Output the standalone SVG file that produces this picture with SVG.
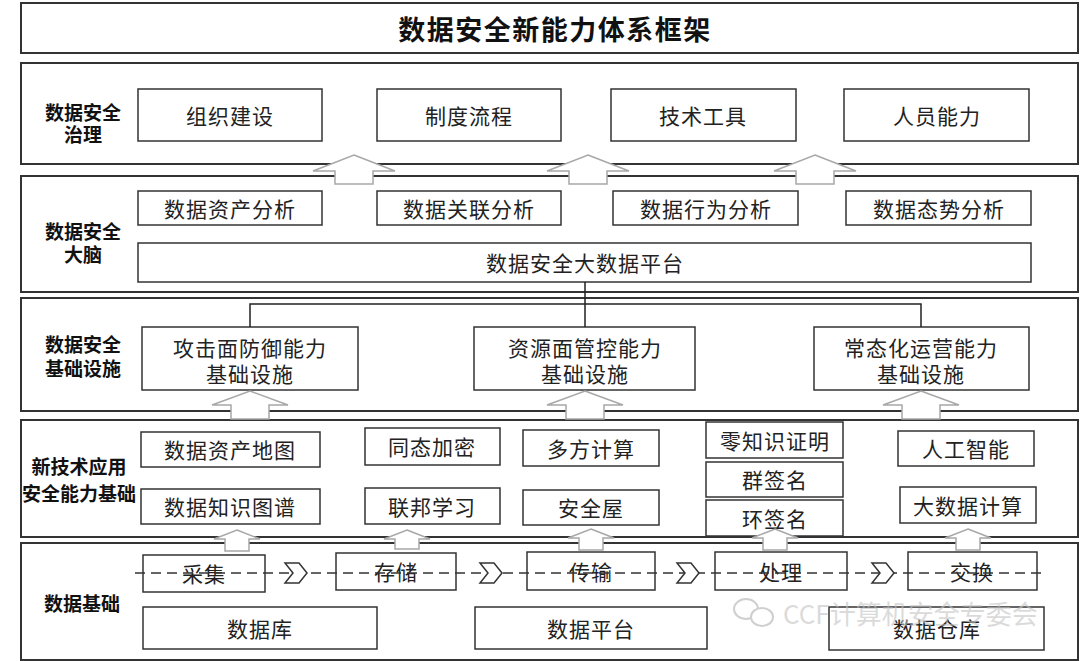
<svg xmlns="http://www.w3.org/2000/svg" width="1080" height="661" viewBox="0 0 1080 661">
<style>
.sec{fill:#fff;stroke:#333;stroke-width:2}
.box{fill:#fff;stroke:#333;stroke-width:1.5}
.t{font-family:"Noto Sans CJK SC","Noto Sans",sans-serif;font-size:21px;fill:#222;text-anchor:middle;dominant-baseline:central;letter-spacing:1px}
.lbl{font-family:"Noto Sans CJK SC","Noto Sans",sans-serif;font-size:19px;font-weight:bold;fill:#111;text-anchor:middle;dominant-baseline:central}
.title{font-family:"Noto Sans CJK SC","Noto Sans",sans-serif;font-size:27px;font-weight:bold;fill:#111;text-anchor:middle;dominant-baseline:central;letter-spacing:1.5px}
.conn{stroke:#222;stroke-width:1.5;fill:none}
.blk{fill:#fff;stroke:#a8a8a8;stroke-width:1.5;stroke-linejoin:miter}
.dash{stroke:#333;stroke-width:1.5;stroke-dasharray:10 6;fill:none}
.chev{fill:#fff;stroke:#333;stroke-width:1.5}
.wm{font-family:"Noto Sans CJK SC","Noto Sans",sans-serif;font-size:26px;fill:#c4c4c4;fill-opacity:0.75;dominant-baseline:central}
</style>
<rect width="1080" height="661" fill="#fff"/>

<g id="title">
<rect class="sec" x="21" y="3" width="1057" height="50"/>
<text class="title" x="555" y="28">数据安全新能力体系框架</text>
</g>

<g id="sections">
<g id="sec-governance"><rect class="sec" x="21" y="63" width="1057" height="101"/>
<text class="lbl" x="83" y="111">数据安全</text><text class="lbl" x="83" y="133">治理</text></g>
<g id="sec-brain"><rect class="sec" x="21" y="176" width="1057" height="116"/>
<text class="lbl" x="83" y="230">数据安全</text><text class="lbl" x="83" y="253">大脑</text></g>
<g id="sec-infra"><rect class="sec" x="21" y="298" width="1057" height="113"/>
<text class="lbl" x="83" y="343">数据安全</text><text class="lbl" x="83" y="367">基础设施</text></g>
<g id="sec-newtech"><rect class="sec" x="21" y="420" width="1057" height="117"/>
<text class="lbl" x="79" y="465">新技术应用</text><text class="lbl" x="79" y="492">安全能力基础</text></g>
<g id="sec-data"><rect class="sec" x="21" y="543" width="1057" height="117"/>
<text class="lbl" x="82" y="602">数据基础</text></g>
</g>

<g id="n-org"><rect class="box" x="138" y="89" width="184" height="52"/><text class="t" x="230" y="115">组织建设</text></g>
<g id="n-policy"><rect class="box" x="377" y="89" width="184" height="52"/><text class="t" x="469" y="115">制度流程</text></g>
<g id="n-tools"><rect class="box" x="611" y="89" width="185" height="52"/><text class="t" x="703" y="115">技术工具</text></g>
<g id="n-people"><rect class="box" x="844" y="89" width="185" height="52"/><text class="t" x="937" y="115">人员能力</text></g>

<g id="n-asset"><rect class="box" x="138" y="191" width="184" height="34"/><text class="t" x="230" y="208">数据资产分析</text></g>
<g id="n-assoc"><rect class="box" x="377" y="191" width="184" height="34"/><text class="t" x="469" y="208">数据关联分析</text></g>
<g id="n-behav"><rect class="box" x="613" y="191" width="185" height="34"/><text class="t" x="706" y="208">数据行为分析</text></g>
<g id="n-situ"><rect class="box" x="846" y="191" width="185" height="34"/><text class="t" x="939" y="208">数据态势分析</text></g>
<g id="n-platform"><rect class="box" x="138" y="243" width="893" height="39"/><text class="t" x="585" y="262">数据安全大数据平台</text></g>

<g id="n-attack"><rect class="box" x="142" y="327" width="216" height="63"/><text class="t" x="250" y="347">攻击面防御能力</text><text class="t" x="250" y="373">基础设施</text></g>
<g id="n-resource"><rect class="box" x="474" y="327" width="221" height="63"/><text class="t" x="585" y="347">资源面管控能力</text><text class="t" x="585" y="373">基础设施</text></g>
<g id="n-ops"><rect class="box" x="814" y="327" width="215" height="63"/><text class="t" x="921" y="347">常态化运营能力</text><text class="t" x="921" y="373">基础设施</text></g>

<g id="n-map"><rect class="box" x="141" y="432" width="179" height="35"/><text class="t" x="230" y="449">数据资产地图</text></g>
<g id="n-kg"><rect class="box" x="141" y="489" width="179" height="35"/><text class="t" x="230" y="506">数据知识图谱</text></g>
<g id="n-he"><rect class="box" x="365" y="428" width="135" height="37"/><text class="t" x="432" y="446">同态加密</text></g>
<g id="n-fl"><rect class="box" x="365" y="488" width="135" height="36"/><text class="t" x="432" y="506">联邦学习</text></g>
<g id="n-mpc"><rect class="box" x="523" y="430" width="136" height="36"/><text class="t" x="591" y="448">多方计算</text></g>
<g id="n-safe"><rect class="box" x="523" y="490" width="136" height="35"/><text class="t" x="591" y="507">安全屋</text></g>
<g id="n-zkp"><rect class="box" x="706" y="422" width="137" height="36"/><text class="t" x="775" y="440">零知识证明</text></g>
<g id="n-group"><rect class="box" x="706" y="462" width="137" height="35"/><text class="t" x="775" y="479">群签名</text></g>
<g id="n-ring"><rect class="box" x="706" y="500" width="137" height="36"/><text class="t" x="775" y="518">环签名</text></g>
<g id="n-ai"><rect class="box" x="898" y="431" width="136" height="35"/><text class="t" x="966" y="448">人工智能</text></g>
<g id="n-bdc"><rect class="box" x="900" y="487" width="136" height="36"/><text class="t" x="968" y="505">大数据计算</text></g>

<g id="n-collect"><rect class="box" x="143" y="555" width="122" height="37"/><text class="t" x="204" y="573">采集</text></g>
<g id="n-store"><rect class="box" x="336" y="553" width="120" height="37"/><text class="t" x="396" y="571">存储</text></g>
<g id="n-trans"><rect class="box" x="527" y="552" width="128" height="38"/><text class="t" x="591" y="571">传输</text></g>
<g id="n-proc"><rect class="box" x="715" y="552" width="132" height="38"/><text class="t" x="781" y="571">处理</text></g>
<g id="n-exch"><rect class="box" x="908" y="552" width="129" height="38"/><text class="t" x="972" y="571">交换</text></g>
<g id="n-db"><rect class="box" x="143" y="607" width="234" height="42"/><text class="t" x="260" y="628">数据库</text></g>
<g id="n-dp"><rect class="box" x="475" y="607" width="232" height="42"/><text class="t" x="591" y="628">数据平台</text></g>
<g id="n-dw"><rect class="box" x="829" y="607" width="215" height="43"/><text class="t" x="937" y="628">数据仓库</text></g>

<g id="connectors">
<path class="conn" d="M585 282 V327 M250 327 V304 H921 V327"/>
<line class="dash" x1="135" y1="573" x2="1045" y2="573"/>
<g id="chevrons">
<polygon class="chev" points="285,563 299,563 307,573 299,583 285,583 293,573"/>
<polygon class="chev" points="480,563 494,563 502,573 494,583 480,583 488,573"/>
<polygon class="chev" points="677,563 691,563 699,573 691,583 677,583 685,573"/>
<polygon class="chev" points="872,563 886,563 894,573 886,583 872,583 880,573"/>
</g>
<g id="block-arrows">
<polygon class="blk" points="354,155 395,171 373,171 373,184 335,184 335,171 313,171"/>
<polygon class="blk" points="588,155 629,171 607,171 607,184 569,184 569,171 547,171"/>
<polygon class="blk" points="815,155 856,171 834,171 834,184 796,184 796,171 774,171"/>
<polygon class="blk" points="250,391 288,405 269,405 269,419 231,419 231,405 212,405"/>
<polygon class="blk" points="585,391 623,405 604,405 604,419 566,419 566,405 547,405"/>
<polygon class="blk" points="921,391 959,405 940,405 940,419 902,419 902,405 883,405"/>
<polygon class="blk" points="237,530 260,539 249,539 249,551 225,551 225,539 214,539"/>
<polygon class="blk" points="407,530 430,539 419,539 419,549 395,549 395,539 384,539"/>
<polygon class="blk" points="591,529 614,538 603,538 603,550 579,550 579,538 568,538"/>
<polygon class="blk" points="775,529 798,538 787,538 787,550 763,550 763,538 752,538"/>
<polygon class="blk" points="968,529 991,538 980,538 980,550 956,550 956,538 945,538"/>
</g>
</g>

<g id="watermark" opacity="0.8">
<ellipse cx="746" cy="609" rx="12" ry="10" fill="none" stroke="#c4c4c4" stroke-width="2"/>
<ellipse cx="762" cy="617" rx="11" ry="9" fill="#fff" stroke="#c4c4c4" stroke-width="2"/>
<text class="wm" x="783" y="612">CCF计算机安全专委会</text>
</g>
</svg>
